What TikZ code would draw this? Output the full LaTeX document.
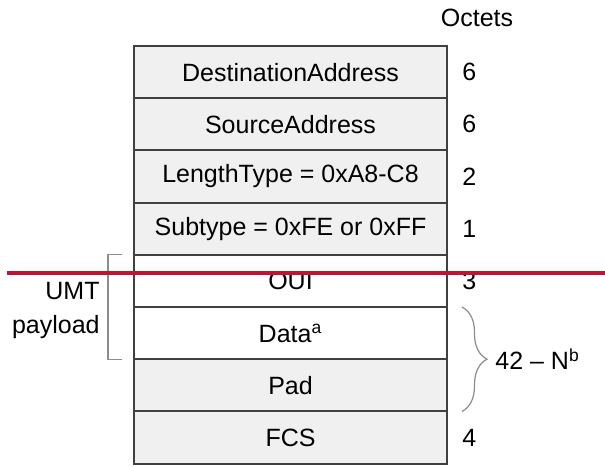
\documentclass[tikz,border=0pt]{standalone}
\usepackage{fontspec}
\setmainfont{Liberation Sans}
\usepackage{xcolor}
\usepackage{tikz}
\usetikzlibrary{calc, positioning, decorations.pathreplacing}

\definecolor{fieldgray}{HTML}{F0F0F0}
\definecolor{framegray}{HTML}{404040}
\definecolor{markgray}{HTML}{8C8C8C}
\definecolor{cutred}{HTML}{C41234}

\tikzset{
  field/.style = {draw = framegray, line width = 1pt, fill = fieldgray,
    minimum width = 156.5pt, minimum height = 26.1pt, inner sep = 0pt, outer sep = 0pt},
  openfield/.style = {field, fill = white},
  octet/.style = {anchor = west, inner sep = 0pt},
  bracket/.style = {draw = markgray, line width = 0.6pt}
}

\begin{document}
\begin{tikzpicture}[x = 0.5pt, y = -0.5pt, font = \fontsize{12.5}{17}\selectfont]
  \useasboundingbox (0, 0) rectangle (605, 466);

  \node[field] (dest) at (290.5, 72.1) {DestinationAddress};
  \node[field, below = 0pt of dest] (src) {SourceAddress};
  \node[field, below = 0pt of src] (lentype) {LengthType = 0xA8-C8};
  \node[field, below = 0pt of lentype] (subtype) {Subtype = 0xFE or 0xFF};
  \node[openfield, below = 0pt of subtype] (oui) {OUI};
  \node[openfield, below = 0pt of oui] (data) {Data\textsuperscript{a}};
  \node[field, below = 0pt of data] (pad) {Pad};
  \node[field, below = 0pt of pad] (fcs) {FCS};

  \node (octets) at (477, 18) {Octets};
  \node[octet] (n1) at ($(dest.east) + (15, 0)$) {6};
  \node[octet] (n2) at ($(src.east) + (15, 0)$) {6};
  \node[octet] (n3) at ($(lentype.east) + (15, 0)$) {2};
  \node[octet] (n4) at ($(subtype.east) + (15, 0)$) {1};
  \node[octet] (n5) at ($(oui.east) + (15, 0)$) {3};
  \node[octet] (n8) at ($(fcs.east) + (15, 0)$) {4};

  % UMT payload bracket
  \draw[bracket] ($(oui.north west) + (-12, 0)$) -- ++(-14, 0)
    -- ($(data.south west) + (-26, 0)$) -- ++(14, 0);
  \node[align = right, anchor = base east, inner sep = 0pt] (umt) at (100, 333) {UMT\\payload};

  % variable length
  \draw[bracket, decorate, decoration = {brace, amplitude = 12.5pt}]
    ($(data.north east) + (15, 0)$) -- ($(pad.south east) + (15, 0)$);
  \node[octet] (nlen) at ($(data.south east) + (48, 0)$) {42 -- N\textsuperscript{b}};

  \draw[cutred, line width = 1.6pt] (7, 273) -- (605, 273);
\end{tikzpicture}
\end{document}
